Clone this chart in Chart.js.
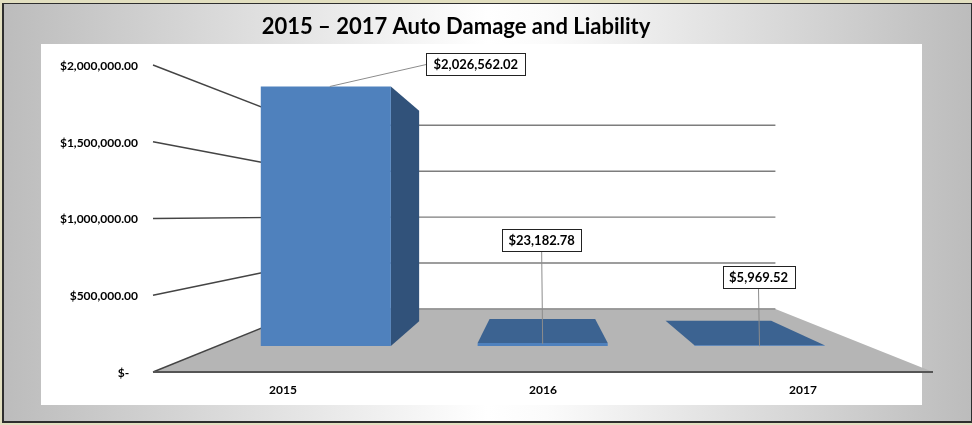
<!DOCTYPE html>
<html>
<head>
<meta charset="utf-8">
<title>2015 – 2017 Auto Damage and Liability</title>
<script src="https://cdn.jsdelivr.net/npm/chart.js@4"></script>
<style>
  html, body { margin: 0; padding: 0; background: #e8e6cf; }
  #frame {
    position: absolute; left: 0; top: 0; width: 972px; height: 425px; overflow: hidden;
    background: #e2dfc0;
  }
  #inner {
    position: absolute; left: 2px; top: 3px; width: 967px; height: 417px;
    border: solid #2e2e2e; border-width: 1px 1px 2px 2px;
    background: linear-gradient(to right, #bcbcbc 0%, #ffffff 50%, #fbfbfb 56%, #bcbcbc 100%);
  }
  #panel { position: absolute; left: 41px; top: 44px; width: 881px; height: 361px; background: #fff; }
  canvas { position: absolute; left: 0; top: 0; }
</style>
</head>
<body>
<div id="frame">
  <div id="inner"></div>
  <div id="panel"></div>
  <canvas id="grafico" width="972" height="425"></canvas>
</div>
<script>
const titulo = '2015 – 2017 Auto Damage and Liability';
const categorias = ['2015', '2016', '2017'];
const valores = [2026562.02, 23182.78, 5969.52];
const etiquetas = ['$2,026,562.02', '$23,182.78', '$5,969.52'];
const marcasY = [0, 500000, 1000000, 1500000, 2000000];
const textosY = ['$-   ', '$500,000.00', '$1,000,000.00', '$1,500,000.00', '$2,000,000.00'];

// fake 3D: every point is pulled towards a vanishing point, k=1 is the front plane of the axes
const fuga = { x: 541, y: 215 };
const kFondo = 0.598;
const kBarraFrente = 0.834;
const kBarraAtras = 0.677;

function proy(x, y, k) {
  return [fuga.x + (x - fuga.x) * k, fuga.y + (y - fuga.y) * k];
}

function poly(ctx, pts, fill, stroke, lw) {
  ctx.beginPath();
  pts.forEach((p, i) => i ? ctx.lineTo(p[0], p[1]) : ctx.moveTo(p[0], p[1]));
  ctx.closePath();
  if (fill) { ctx.fillStyle = fill; ctx.fill(); }
  if (stroke) { ctx.strokeStyle = stroke; ctx.lineWidth = lw; ctx.stroke(); }
}

function linea(ctx, a, b, color, lw) {
  ctx.beginPath();
  ctx.moveTo(a[0], a[1]);
  ctx.lineTo(b[0], b[1]);
  ctx.strokeStyle = color;
  ctx.lineWidth = lw;
  ctx.stroke();
}

const cajas3d = {
  id: 'cajas3d',
  afterLayout(chart) {
    // title is centred over the panel with the plot, not over the page
    chart.titleBlock.right = 912;
  },
  beforeDatasetsDraw(chart) {
    const { ctx, chartArea: a, scales: { y } } = chart;
    ctx.save();
    // floor
    poly(ctx, [
      [a.left, a.bottom], proy(a.left, a.bottom, kFondo),
      proy(a.right, a.bottom, kFondo), [a.right, a.bottom]
    ], '#b5b5b5');
    // back wall lines and side wall lines
    marcasY.forEach(v => {
      const py = y.getPixelForValue(v);
      const p1 = proy(a.left, py, kFondo), p2 = proy(a.right, py, kFondo);
      linea(ctx, [a.left, py], p1, '#444', 1.4);
      linea(ctx, p1, p2, '#7d7d7d', 1.4);
    });
    linea(ctx, [a.left, a.bottom], [a.right, a.bottom], '#555', 2);
    ctx.restore();
  },
  beforeDatasetDraw(chart, args) {
    const { ctx } = chart;
    const meta = args.meta;
    ctx.save();
    meta.data.forEach(bar => {
      const izq = bar.x - bar.width / 2, der = bar.x + bar.width / 2;
      const f = (x, yy) => proy(x, yy, kBarraFrente);
      const t = (x, yy) => proy(x, yy, kBarraAtras);
      // the top is only seen when it is under the eye line
      if (bar.y > fuga.y) {
        poly(ctx, [f(izq, bar.y), f(der, bar.y), t(der, bar.y), t(izq, bar.y)], '#3c6391');
      }
      if (f(der, 0)[0] < fuga.x) {
        poly(ctx, [f(der, bar.y), t(der, bar.y), t(der, bar.base), f(der, bar.base)], '#31527a');
      }
      poly(ctx, [f(izq, bar.y), f(der, bar.y), f(der, bar.base), f(izq, bar.base)], '#4f81bd');
    });
    ctx.restore();
    return false; // bars are drawn here, skip the flat ones
  },
  afterDatasetsDraw(chart, args, opts) {
    const { ctx } = chart;
    const meta = chart.getDatasetMeta(0);
    ctx.save();
    ctx.font = 'bold 13px Lato';
    ctx.textAlign = 'center';
    ctx.textBaseline = 'middle';
    meta.data.forEach((bar, i) => {
      const s = opts.cajas[i];
      const ancla = proy(bar.x, bar.y, kBarraFrente);
      const cx = ancla[0] + s.dx, cy = ancla[1] + s.dy;
      const fin = s.lado ? [cx - s.w / 2, cy] : [cx, cy + s.h / 2];
      linea(ctx, [ancla[0] + (s.lado ? 4 : 0), ancla[1] + (s.lado ? 0 : 1)], fin, '#8c8c8c', 1);
      ctx.fillStyle = '#fff';
      ctx.fillRect(cx - s.w / 2, cy - s.h / 2, s.w, s.h);
      ctx.strokeStyle = '#222';
      ctx.lineWidth = 1;
      ctx.strokeRect(Math.round(cx - s.w / 2) + 0.5, Math.round(cy - s.h / 2) + 0.5, s.w, s.h);
      ctx.fillStyle = '#000';
      ctx.fillText(etiquetas[i], cx, cy + 0.5);
    });
    ctx.restore();
  }
};

new Chart(document.getElementById('grafico'), {
  type: 'bar',
  data: {
    labels: categorias,
    datasets: [{
      label: 'Auto Damage and Liability',
      data: valores,
      backgroundColor: '#4f81bd',
      categoryPercentage: 1,
      barPercentage: 0.6
    }]
  },
  plugins: [cajas3d],
  options: {
    responsive: false,
    animation: false,
    layout: { padding: { left: 0, right: 39, top: 0, bottom: 0 } },
    plugins: {
      legend: { display: false },
      tooltip: { enabled: false },
      title: {
        display: true,
        text: titulo,
        color: '#000',
        font: { family: 'Lato', size: 22, weight: 'bold' },
        padding: { top: 14, bottom: 24.6 }
      },
      cajas3d: {
        cajas: [
          { dx: 150, dy: -22, w: 99, h: 22, lado: true },
          { dx: -1, dy: -103, w: 79, h: 22, lado: false },
          { dx: -1, dy: -68, w: 72, h: 22, lado: false }
        ]
      }
    },
    scales: {
      x: {
        grid: { display: false, drawTicks: false },
        border: { display: false },
        ticks: { color: '#000', padding: 11, font: { family: 'Lato', size: 12, weight: 'bold' } },
        afterFit(s) { s.height = 53; }
      },
      y: {
        min: 0,
        max: 2000000,
        grid: { display: false, drawTicks: false },
        border: { display: false },
        afterBuildTicks(s) { s.ticks = marcasY.map(v => ({ value: v })); },
        ticks: {
          color: '#000',
          padding: 15,
          labelOffset: 1,
          font: { family: 'Lato', size: 12, weight: 'bold' },
          callback(v) { return textosY[marcasY.indexOf(v)]; }
        },
        afterFit(s) { s.width = 153; }
      }
    }
  }
});
</script>
</body>
</html>
